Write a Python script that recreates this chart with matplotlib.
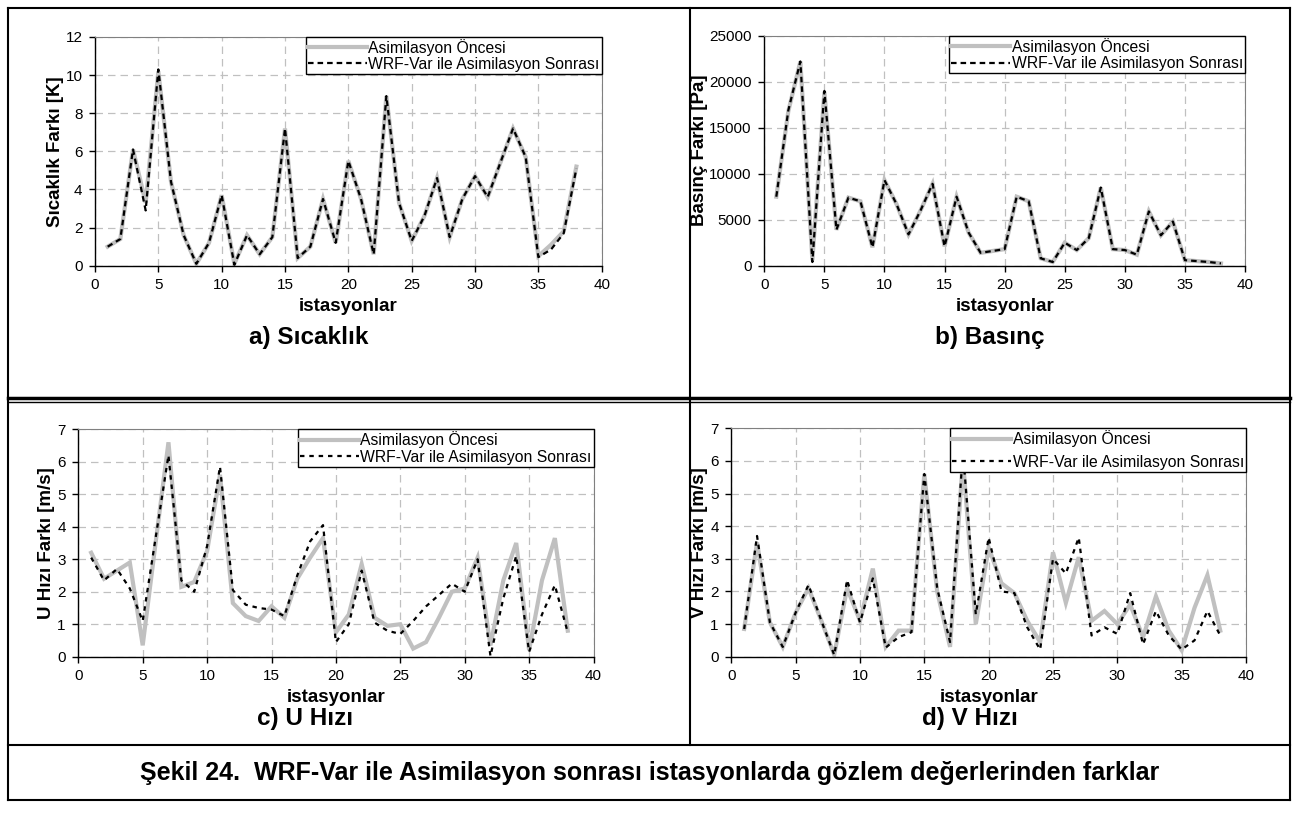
import matplotlib
matplotlib.use("Agg")
import matplotlib.pyplot as plt
from matplotlib.lines import Line2D

plt.rcParams['font.family'] = ['Liberation Sans', 'DejaVu Sans']

# station numbers on the x axis
stations = list(range(1, 39))

# a) temperature difference [K]
sicaklik_once = [1.0, 1.4, 6.1, 3.3, 10.2, 4.4, 1.6, 0.1, 1.2, 3.7, 0.1, 1.6, 0.6, 1.5, 7.2, 0.4, 1.0, 3.5, 1.2,
                 5.5, 3.5, 0.6, 8.9, 3.3, 1.3, 2.6, 4.6, 1.5, 3.5, 4.7, 3.6, 5.4, 7.2, 5.7, 0.5, 1.1, 1.8, 5.2]
sicaklik_sonra = [1.0, 1.4, 6.1, 2.9, 10.3, 4.4, 1.6, 0.1, 1.2, 3.7, 0.05, 1.6, 0.6, 1.5, 7.2, 0.4, 1.0, 3.5, 1.2,
                  5.5, 3.5, 0.6, 8.9, 3.3, 1.3, 2.6, 4.6, 1.5, 3.5, 4.7, 3.6, 5.4, 7.2, 5.7, 0.45, 0.85, 1.7, 5.1]

# b) pressure difference [Pa]
basinc_once = [7500, 16800, 22200, 600, 18900, 3900, 7400, 7000, 2000, 9300, 6700, 3400, 6000, 8900, 2100,
               7500, 3600, 1400, 1600, 1800, 7500, 7000, 800, 400, 2500, 1700, 3000, 8500, 1800, 1700, 1200,
               5900, 3300, 4800, 600, 500, 400, 250]
basinc_sonra = [7500, 16900, 22200, 400, 19000, 3900, 7400, 7000, 2000, 9300, 6700, 3400, 6000, 8900, 2100,
                7500, 3600, 1400, 1600, 1800, 7500, 7000, 800, 400, 2500, 1700, 3000, 8500, 1800, 1700, 1200,
                5900, 3300, 4800, 600, 500, 400, 250]

# c) U wind difference [m/s]
u_once = [3.2, 2.4, 2.65, 2.9, 0.35, 3.5, 6.6, 2.15, 2.3, 3.25, 5.6, 1.65, 1.25, 1.1, 1.55, 1.2, 2.4, 3.05, 3.65,
          0.75, 1.3, 2.85, 1.2, 0.95, 1.0, 0.25, 0.45, 1.2, 2.0, 2.1, 3.05, 0.35, 2.35, 3.5, 0.2, 2.35, 3.65, 0.8]
u_sonra = [3.05, 2.35, 2.7, 2.1, 1.1, 3.65, 6.2, 2.35, 2.0, 3.4, 5.85, 2.05, 1.6, 1.5, 1.45, 1.25, 2.5, 3.55, 4.05,
           0.45, 1.0, 2.65, 1.05, 0.8, 0.7, 1.1, 1.55, 1.9, 2.25, 2.0, 3.0, 0.02, 1.8, 3.1, 0.15, 1.3, 2.2, 0.75]

# d) V wind difference [m/s]
v_once = [0.85, 3.5, 1.05, 0.3, 1.35, 2.1, 1.1, 0.06, 2.1, 1.1, 2.7, 0.3, 0.8, 0.8, 5.6, 2.0, 0.3, 6.05, 1.0,
          3.35, 2.25, 1.95, 1.1, 0.45, 3.2, 1.65, 3.05, 1.1, 1.4, 1.0, 1.6, 0.6, 1.85, 0.8, 0.2, 1.5, 2.5, 0.8]
v_sonra = [0.85, 3.7, 1.05, 0.3, 1.35, 2.2, 1.1, 0.05, 2.35, 1.05, 2.4, 0.28, 0.6, 0.75, 5.6, 2.1, 0.45, 6.3, 1.3,
           3.65, 2.0, 1.95, 0.9, 0.22, 3.0, 2.55, 3.65, 0.65, 0.9, 0.7, 1.95, 0.38, 1.4, 0.65, 0.22, 0.5, 1.4, 0.65]

label_once = 'Asimilasyon Öncesi'
label_sonra = 'WRF-Var ile Asimilasyon Sonrası'

W, H = 1299, 818
fig = plt.figure(figsize=(W / 100, H / 100), dpi=100)


def box(x0, y0, x1, y1):
    # pixel box (top-left origin) -> figure fraction rect
    return [x0 / W, 1 - y1 / H, (x1 - x0) / W, (y1 - y0) / H]


def hline(y, x0, x1, lw=1.0):
    fig.add_artist(Line2D([x0 / W, x1 / W], [1 - y / H, 1 - y / H], color='black', lw=lw,
                          transform=fig.transFigure))


def vline(x, y0, y1, lw=1.0):
    fig.add_artist(Line2D([x / W, x / W], [1 - y0 / H, 1 - y1 / H], color='black', lw=lw,
                          transform=fig.transFigure))


def panel(rect, once, sonra, ylim, yticks, ylabel, dash, leg_spacing, ylabelpad):
    ax = fig.add_axes(rect)
    ax.plot(stations, once, color='#c0c0c0', lw=3.0, label=label_once, solid_joinstyle='miter')
    ax.plot(stations, sonra, color='black', lw=1.6, linestyle=dash, label=label_sonra)
    ax.set_xlim(0, 40)
    ax.set_ylim(*ylim)
    ax.set_xticks(range(0, 41, 5))
    ax.set_yticks(yticks)
    ax.grid(True, color='#c0c0c0', linestyle=(0, (6, 4)), lw=0.9)
    ax.set_axisbelow(True)
    for s in ('top', 'right'):
        ax.spines[s].set_color('#808080')
    for s in ('left', 'bottom'):
        ax.spines[s].set_color('black')
        ax.spines[s].set_linewidth(1.0)
    ax.tick_params(direction='out', length=4, width=1.0, labelsize=11, pad=5)
    ax.set_xlabel('istasyonlar', fontsize=13.5, fontweight='bold', labelpad=4)
    ax.set_ylabel(ylabel, fontsize=13.5, fontweight='bold', labelpad=ylabelpad)
    leg = ax.legend(loc='upper right', borderaxespad=0, fontsize=11.3, frameon=True, fancybox=False,
                    edgecolor='black', framealpha=1, handlelength=3.75, handletextpad=0.1,
                    borderpad=0.12, labelspacing=leg_spacing)
    leg.get_frame().set_linewidth(1.0)
    return ax


ax_a = panel(box(95, 37, 601.7, 265.7), sicaklik_once, sicaklik_sonra, (0, 12), range(0, 13, 2),
             'Sıcaklık Farkı [K]', (0, (2.5, 1.8)), 0.05, 1)
ax_b = panel(box(764.3, 35.7, 1245, 265.7), basinc_once, basinc_sonra, (0, 25000), range(0, 25001, 5000),
             'Basınç Farkı [Pa]', (0, (2.5, 1.8)), 0.1, 1)
ax_c = panel(box(78.3, 429.3, 593.5, 656.7), u_once, u_sonra, (0, 7), range(0, 8),
             'U Hızı Farkı [m/s]', (0, (2, 2.2)), 0.1, 2)
ax_d = panel(box(731.3, 428.3, 1246, 656.7), v_once, v_sonra, (0, 7), range(0, 8),
             'V Hızı Farkı [m/s]', (0, (2, 2.2)), 0.5, 2)

# panel captions and figure caption
title_kw = dict(fontsize=17.5, fontweight='bold', ha='center', va='center')
fig.text(309 / W, 1 - 338 / H, 'a) Sıcaklık', **title_kw)
fig.text(990 / W, 1 - 338 / H, 'b) Basınç', **title_kw)
fig.text(305 / W, 1 - 718 / H, 'c) U Hızı', **title_kw)
fig.text(970 / W, 1 - 718 / H, 'd) V Hızı', **title_kw)
fig.text(650 / W, 1 - 773 / H,
         'Şekil 24.  WRF-Var ile Asimilasyon sonrası istasyonlarda gözlem değerlerinden farklar',
         **dict(title_kw, fontsize=18))

# table frame around the four charts
mid_x = 690
hline(8, 8, 1290, 1.5)
hline(800, 8, 1290, 1.5)
vline(8, 8, 800, 1.5)
vline(1290, 8, 800, 1.5)
vline(mid_x, 8, 745, 1.5)
hline(397.5, 8, 1290, 2.5)
hline(401.5, 8, 1290, 1.0)
hline(745, 8, 1290, 1.5)

fig.savefig('out.png', dpi=100)
